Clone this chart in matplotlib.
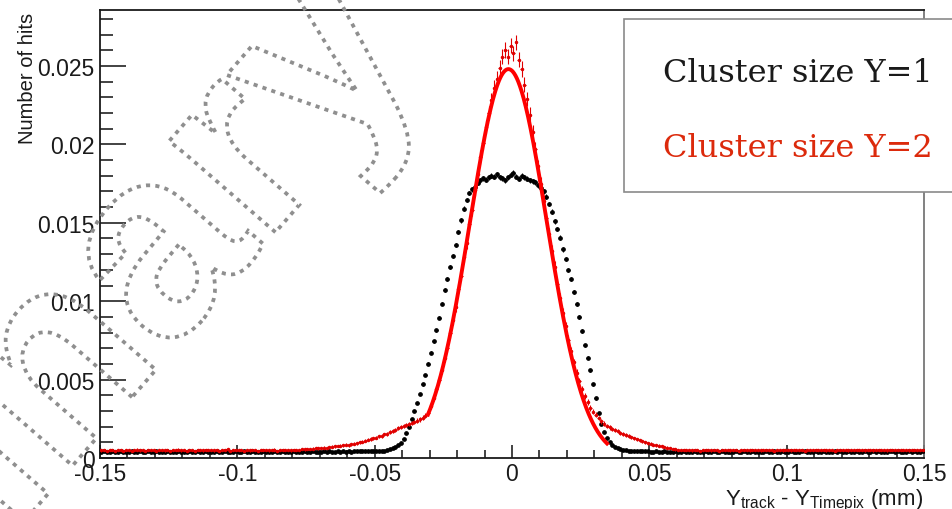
import numpy as np
import matplotlib
matplotlib.use("Agg")
import matplotlib.pyplot as plt
from matplotlib.ticker import MultipleLocator, FuncFormatter
from matplotlib.textpath import TextPath
from matplotlib.patches import PathPatch, Rectangle
from matplotlib.font_manager import FontProperties
from matplotlib.transforms import Affine2D

plt.rcParams["font.family"] = ["Liberation Sans", "DejaVu Sans"]
plt.rcParams["mathtext.fontset"] = "custom"
plt.rcParams["mathtext.rm"] = "Liberation Sans"
plt.rcParams["mathtext.it"] = "Liberation Sans:italic"
plt.rcParams["mathtext.bf"] = "Liberation Sans:bold"

# Histogram range: 300 bins of 1 um between -0.15 and 0.15 mm
x_min, x_max = -0.15, 0.15
bin_width = 0.001

# Normalised hit fractions, in units of 1e-5
cluster_y1 = [
    40, 42, 39, 41, 43, 40, 38, 42, 41, 39,
    41, 43, 40, 39, 42, 41, 40, 44, 39, 41,
    42, 40, 38, 41, 43, 40, 41, 39, 42, 40,
    39, 41, 43, 40, 38, 42, 41, 40, 43, 39,
    41, 40, 42, 39, 41, 43, 40, 38, 41, 42,
    40, 39, 42, 41, 40, 43, 39, 41, 40, 42,
    41, 38, 40, 42, 41, 39, 43, 40, 41, 39,
    42, 40, 41, 39, 43, 41, 40, 42, 39, 41,
    40, 42, 41, 43, 40, 41, 42, 40, 43, 41,
    42, 41, 43, 42, 44, 43, 42, 44, 43, 44,
    45, 44, 46, 47, 50, 55, 62, 70, 80, 95,
    120, 158, 200, 250, 300, 350, 410, 470, 530, 600,
    670, 745, 815, 895, 985, 1070, 1140, 1220, 1290, 1360,
    1440, 1515, 1590, 1645, 1690, 1715, 1730, 1755, 1770, 1785,
    1775, 1790, 1800, 1795, 1810, 1790, 1785, 1770, 1790, 1805,
    1820, 1795, 1780, 1800, 1790, 1780, 1770, 1765, 1760, 1740,
    1720, 1700, 1665, 1620, 1570, 1510, 1460, 1405, 1330, 1270,
    1200, 1140, 1060, 980, 900, 810, 720, 640, 560, 470,
    380, 290, 220, 165, 125, 100, 82, 70, 62, 56,
    52, 49, 47, 46, 45, 44, 44, 43, 42, 42,
    41, 40, 42, 39, 41, 43, 40, 41, 39, 42,
    40, 41, 43, 40, 38, 41, 42, 40, 41, 39,
    42, 40, 41, 43, 39, 40, 42, 41, 40, 38,
    41, 42, 40, 39, 43, 41, 40, 42, 41, 40,
    39, 41, 42, 40, 41, 43, 40, 39, 42, 41,
    40, 42, 41, 39, 40, 42, 43, 41, 40, 39,
    42, 41, 40, 43, 41, 39, 40, 42, 41, 43,
    40, 39, 42, 41, 40, 43, 41, 40, 42, 39,
    41, 43, 40, 42, 39, 41, 40, 42, 43, 40,
    42, 40, 41, 39, 43, 41, 42, 40, 41, 42,
]

cluster_y2 = [
    48, 52, 46, 50, 53, 47, 49, 51, 45, 50,
    52, 47, 49, 54, 48, 50, 46, 52, 49, 51,
    47, 53, 50, 48, 51, 46, 52, 49, 54, 48,
    50, 46, 52, 49, 47, 53, 50, 48, 51, 49,
    53, 48, 50, 46, 52, 49, 55, 47, 50, 52,
    49, 51, 47, 53, 48, 50, 52, 46, 51, 49,
    52, 48, 50, 54, 47, 51, 49, 53, 50, 48,
    51, 53, 52, 56, 55, 58, 57, 60, 62, 61,
    63, 66, 65, 70, 72, 74, 76, 78, 80, 84,
    82, 88, 92, 95, 100, 104, 110, 116, 120, 126,
    130, 138, 140, 150, 155, 165, 172, 180, 190, 196,
    205, 212, 218, 222, 230, 238, 248, 258, 270, 285,
    330, 385, 440, 500, 560, 640, 700, 795, 880, 960,
    1075, 1160, 1285, 1370, 1495, 1580, 1710, 1810, 1920, 2010,
    2110, 2200, 2280, 2360, 2420, 2490, 2560, 2600, 2560, 2630,
    2580, 2650, 2540, 2480, 2380, 2290, 2190, 2080, 1970, 1860,
    1750, 1640, 1530, 1430, 1320, 1220, 1110, 1020, 925, 840,
    755, 680, 610, 545, 490, 440, 395, 355, 320, 295,
    275, 255, 235, 220, 205, 195, 185, 178, 170, 162,
    155, 148, 140, 132, 125, 118, 112, 106, 100, 95,
    90, 86, 82, 78, 74, 70, 66, 62, 58, 55,
    52, 50, 53, 49, 51, 48, 52, 50, 47, 51,
    49, 52, 48, 51, 50, 47, 53, 49, 51, 48,
    52, 50, 47, 51, 49, 53, 48, 50, 52, 49,
    48, 51, 53, 49, 50, 47, 52, 50, 48, 51,
    50, 48, 52, 49, 51, 53, 47, 50, 49, 52,
    51, 49, 50, 53, 48, 50, 52, 47, 51, 49,
    49, 52, 48, 50, 51, 49, 53, 50, 48, 51,
    52, 48, 51, 49, 50, 52, 48, 51, 53, 49,
    50, 51, 49, 52, 48, 50, 51, 49, 52, 50,
]

# Statistical error scale (error = scale * sqrt(fraction))
err_scale_y1 = 0.0012
err_scale_y2 = 0.0031

# Gaussian fit to the cluster size Y=2 distribution
fit_amplitude = 0.0248
fit_mean = -0.0013
fit_sigma = 0.0140
fit_range = (-0.0306, 0.0346)

legend_labels = ["Cluster size Y=1", "Cluster size Y=2"]
x_ticks = [-0.15, -0.1, -0.05, 0, 0.05, 0.1, 0.15]
y_ticks = [0, 0.005, 0.01, 0.015, 0.02, 0.025]

y1 = np.array(cluster_y1) * 1e-5
y2 = np.array(cluster_y2) * 1e-5
centers1 = x_min + bin_width * (np.arange(len(y1)) + 0.5)
centers2 = x_min + bin_width * (np.arange(len(y2)) + 0.5)

fig = plt.figure(figsize=(9.53, 5.10), dpi=100)
ax = fig.add_axes([100 / 953, 51 / 510, 824 / 953, 448 / 510])

ax.errorbar(centers1, y1, xerr=bin_width / 2, yerr=err_scale_y1 * np.sqrt(y1),
            fmt="o", ms=2.4, color="black", ecolor="black", elinewidth=0.8,
            capsize=0, zorder=3)
ax.errorbar(centers2, y2, xerr=bin_width / 2, yerr=err_scale_y2 * np.sqrt(y2),
            fmt="o", ms=1.5, color="#e00000", ecolor="#e00000", elinewidth=0.8,
            capsize=0, zorder=4)

xf = np.linspace(fit_range[0], fit_range[1], 400)
yf = fit_amplitude * np.exp(-0.5 * ((xf - fit_mean) / fit_sigma) ** 2)
ax.plot(xf, yf, color="#ff0000", lw=2.8, zorder=5)

ax.set_xlim(x_min, x_max)
ax.set_ylim(0, 0.02857)
ax.set_xticks(x_ticks)
ax.set_yticks(y_ticks)
ax.xaxis.set_minor_locator(MultipleLocator(0.01))
ax.yaxis.set_minor_locator(MultipleLocator(0.001))
fmt = FuncFormatter(lambda v, _: "0" if abs(v) < 1e-12 else "%g" % v)
ax.xaxis.set_major_formatter(fmt)
ax.yaxis.set_major_formatter(fmt)

ax.tick_params(axis="both", which="both", direction="in", top=False, right=False,
               labelsize=16.5, labelcolor="#1a1a1a", width=1.2, color="#222222")
ax.tick_params(axis="y", which="major", length=18.7, pad=4)
ax.tick_params(axis="y", which="minor", length=9.4)
ax.tick_params(axis="x", which="major", length=9.2, pad=3)
ax.tick_params(axis="x", which="minor", length=5.5)
for side in ax.spines.values():
    side.set_linewidth(1.3)
    side.set_color("#1a1a1a")
ax.spines["right"].set_color("#777777")

fig.text(28 / 953, 1 - 13 / 510, "Number of hits", rotation=90, ha="center",
         va="top", fontsize=14.5, color="#1a1a1a")
fig.text(923 / 953, 5 / 510, r"Y$_{\rm track}$ - Y$_{\rm Timepix}$ (mm)",
         ha="right", va="baseline", fontsize=16, color="#1a1a1a")

# Dotted outline watermark, placed by the bowl of the letter "a"
wm_font = FontProperties(family="Liberation Sans", weight="bold")
wm_size = 265
wm_path = TextPath((0, 0), "Preliminary", size=wm_size, prop=wm_font)
head = TextPath((0, 0), "Prelimin", size=wm_size, prop=wm_font)
anchor_x = head.get_extents().x1 + 0.30 * wm_size
anchor_y = 0.16 * wm_size
wm_tr = (Affine2D().translate(-anchor_x, -anchor_y).rotate_deg(49)
         .translate(176, 510 - 283))
wm = PathPatch(wm_path, transform=wm_tr, facecolor="none", edgecolor="#8f8f8f",
               lw=2.7, linestyle=(0, (1.1, 1.4)), zorder=10)
fig.add_artist(wm)

# Legend box
box = Rectangle((624 / 953, 1 - 193 / 510), 0.4, (193 - 20) / 510,
                transform=fig.transFigure, facecolor="white",
                edgecolor="#8a8a8a", lw=1.2, zorder=20)
fig.add_artist(box)
fig.text(663 / 953, 1 - 82 / 510, legend_labels[0], family="DejaVu Serif",
         fontsize=23, color="#1a1a1a", ha="left", va="baseline", zorder=21)
fig.text(663 / 953, 1 - 157 / 510, legend_labels[1], family="DejaVu Serif",
         fontsize=23, color="#dc2a0c", ha="left", va="baseline", zorder=21)

fig.savefig("out.png", dpi=100)
